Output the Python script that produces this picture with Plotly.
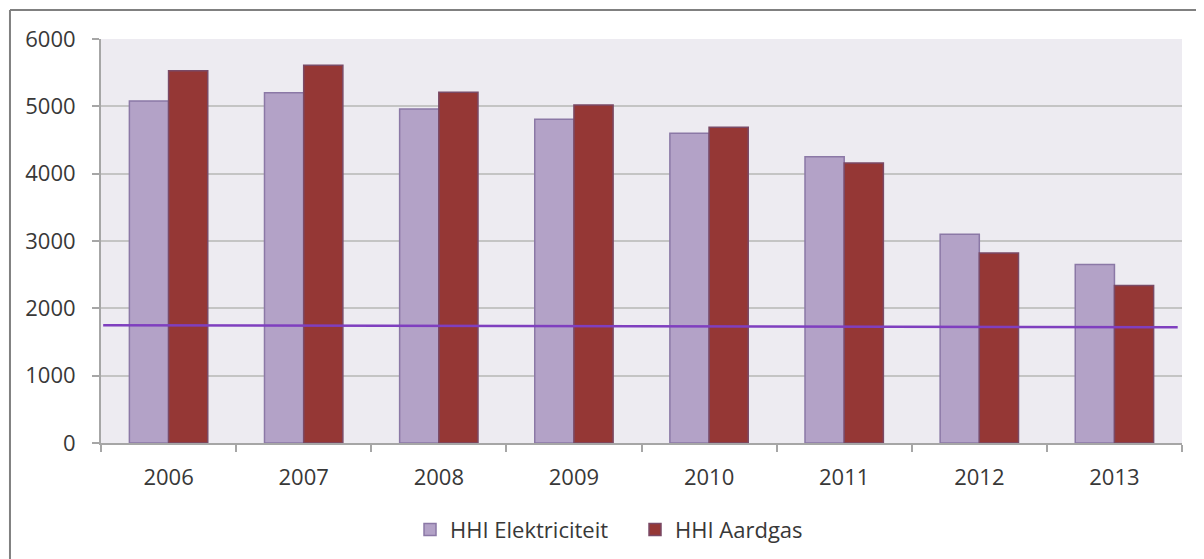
import plotly.graph_objects as go

years = ["2006", "2007", "2008", "2009", "2010", "2011", "2012", "2013"]
hhi_elektriciteit = [5080, 5200, 4960, 4810, 4600, 4250, 3100, 2650]
hhi_aardgas = [5530, 5610, 5210, 5020, 4690, 4160, 2820, 2340]
line_values = [1750, 1720]  # start, end of the horizontal reference line
y_ticks = [0, 1000, 2000, 3000, 4000, 5000, 6000]

FONT = "Open Sans"
TXT = "#383838"

fig = go.Figure()
fig.add_trace(go.Bar(
    x=years, y=hhi_elektriciteit, name="HHI Elektriciteit",
    marker=dict(color="#B3A2C7", line=dict(color="#8B78A6", width=1.5)),
))
fig.add_trace(go.Bar(
    x=years, y=hhi_aardgas, name="HHI Aardgas",
    marker=dict(color="#953735", line=dict(color="#7A4A66", width=1.5)),
))

fig.add_shape(type="line", xref="paper", yref="y",
              x0=0.002, x1=0.996, y0=line_values[0], y1=line_values[1],
              line=dict(color="#7F3FBF", width=2.5), layer="above")

# outer chart border (left & top visible)
fig.add_shape(type="line", xref="paper", yref="paper",
              x0=-0.0842, x1=-0.0842, y0=1.0718, y1=-0.5,
              line=dict(color="#808080", width=2))
fig.add_shape(type="line", xref="paper", yref="paper",
              x0=-0.0842, x1=1.2, y0=1.0718, y1=1.0718,
              line=dict(color="#808080", width=2))

fig.update_layout(
    width=1196, height=551,
    margin=dict(l=93, r=22, t=31, b=116, autoexpand=False),
    paper_bgcolor="white",
    plot_bgcolor="#EDEBF1",
    barmode="group",
    bargap=0.42,
    bargroupgap=0,
    font=dict(family=FONT, size=22, color=TXT),
    legend=dict(orientation="h", x=0.494, xanchor="center",
                yref="container", y=0.053, yanchor="middle",
                font=dict(family=FONT, size=22, color=TXT),
                itemwidth=30, entrywidth=180, traceorder="normal"),
    showlegend=True,
)
fig.update_xaxes(
    type="category", showgrid=False, showline=True, linecolor="#A6A6A6", linewidth=2,
    ticks="outside", ticklen=7, tickcolor="#A6A6A6", tickwidth=2,
    tickson="boundaries", ticklabelstandoff=14,
    tickfont=dict(family=FONT, size=22, color=TXT),
)
fig.update_yaxes(
    range=[0, 6000], tickvals=y_ticks, showgrid=True, gridcolor="#C4C4C4", gridwidth=2,
    showline=True, linecolor="#A6A6A6", linewidth=2, zeroline=False,
    ticks="outside", ticklen=7, tickcolor="#A6A6A6", tickwidth=2,
    ticklabelstandoff=12,
    tickfont=dict(family=FONT, size=22, color=TXT),
)

fig.write_html("out.html")
